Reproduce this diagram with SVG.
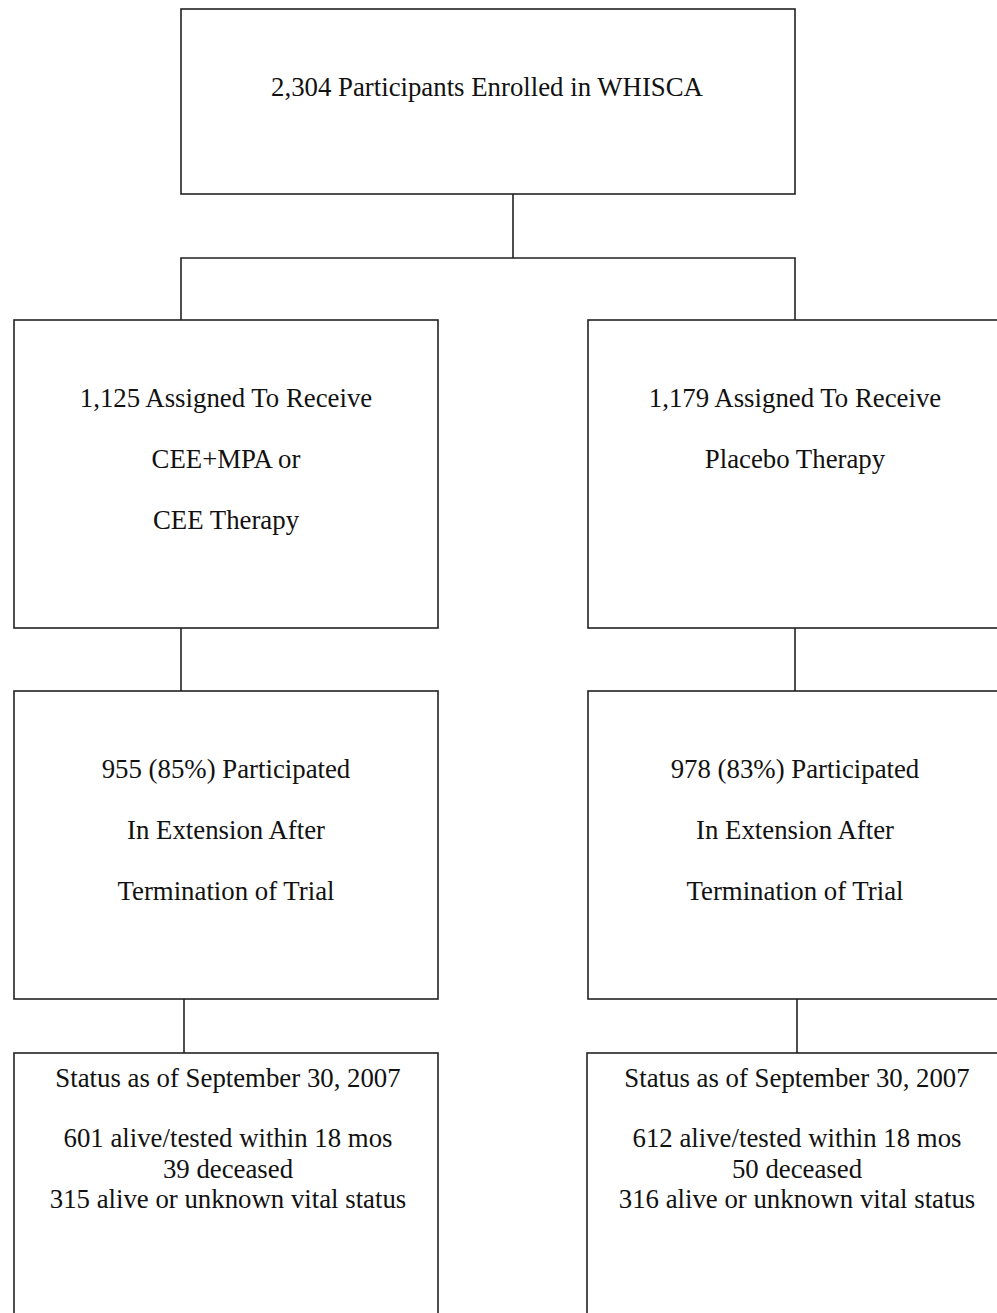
<svg xmlns="http://www.w3.org/2000/svg" width="997" height="1313" viewBox="0 0 997 1313">
<style>
.box{fill:#fff;stroke:#222;stroke-width:1.6}
.ln{fill:none;stroke:#222;stroke-width:1.6}
text{font-family:"Liberation Serif","Times New Roman",serif;font-size:26.8px;fill:#111;text-anchor:middle}
</style>
<rect width="997" height="1313" fill="#fff"/>
<g id="connectors">
<path class="ln" d="M513,194 V258 M181,320 V258 H795 V320"/>
<path class="ln" d="M181,628 V691"/>
<path class="ln" d="M795,628 V691"/>
<path class="ln" d="M184,999 V1053"/>
<path class="ln" d="M797,999 V1053"/>
</g>
<g id="enrolled">
<rect class="box" x="181" y="9" width="614" height="185"/>
<text x="487" y="96">2,304 Participants Enrolled in WHISCA</text>
</g>
<g id="assigned-active">
<rect class="box" x="14" y="320" width="424" height="308"/>
<text x="226" y="407">1,125 Assigned To Receive</text>
<text x="226" y="468">CEE+MPA or</text>
<text x="226" y="529">CEE Therapy</text>
</g>
<g id="assigned-placebo">
<rect class="box" x="588" y="320" width="414" height="308"/>
<text x="795" y="407">1,179 Assigned To Receive</text>
<text x="795" y="468">Placebo Therapy</text>
</g>
<g id="extension-active">
<rect class="box" x="14" y="691" width="424" height="308"/>
<text x="226" y="778">955 (85%) Participated</text>
<text x="226" y="839">In Extension After</text>
<text x="226" y="900">Termination of Trial</text>
</g>
<g id="extension-placebo">
<rect class="box" x="588" y="691" width="414" height="308"/>
<text x="795" y="778">978 (83%) Participated</text>
<text x="795" y="839">In Extension After</text>
<text x="795" y="900">Termination of Trial</text>
</g>
<g id="status-active">
<rect class="box" x="14" y="1053" width="424" height="280"/>
<text x="228" y="1087">Status as of September 30, 2007</text>
<text x="228" y="1147">601 alive/tested within 18 mos</text>
<text x="228" y="1178">39 deceased</text>
<text x="228" y="1208">315 alive or unknown vital status</text>
</g>
<g id="status-placebo">
<rect class="box" x="587" y="1053" width="415" height="280"/>
<text x="797" y="1087">Status as of September 30, 2007</text>
<text x="797" y="1147">612 alive/tested within 18 mos</text>
<text x="797" y="1178">50 deceased</text>
<text x="797" y="1208">316 alive or unknown vital status</text>
</g>
</svg>
